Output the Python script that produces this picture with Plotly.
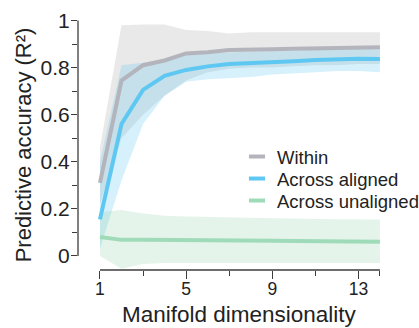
import plotly.graph_objects as go

dims = list(range(1, 15))

within_mean = [0.31, 0.745, 0.81, 0.83, 0.86, 0.865, 0.875, 0.875, 0.878, 0.88, 0.882, 0.884, 0.886, 0.886]
within_upper = [0.46, 0.98, 0.983, 0.983, 0.96, 0.955, 0.945, 0.95, 0.95, 0.95, 0.95, 0.95, 0.95, 0.95]
within_lower = [0.22, 0.5, 0.6, 0.68, 0.745, 0.78, 0.795, 0.80, 0.80, 0.805, 0.81, 0.81, 0.815, 0.815]

aligned_mean = [0.155, 0.56, 0.705, 0.765, 0.79, 0.805, 0.815, 0.818, 0.822, 0.827, 0.832, 0.835, 0.837, 0.836]
aligned_upper = [0.40, 0.81, 0.82, 0.835, 0.855, 0.86, 0.865, 0.868, 0.87, 0.873, 0.876, 0.878, 0.88, 0.88]
aligned_lower = [0.03, 0.32, 0.56, 0.68, 0.74, 0.75, 0.755, 0.76, 0.77, 0.775, 0.78, 0.785, 0.785, 0.78]

unaligned_mean = [0.08, 0.068, 0.068, 0.068, 0.067, 0.066, 0.065, 0.064, 0.064, 0.063, 0.062, 0.061, 0.061, 0.06]
unaligned_upper = [0.185, 0.195, 0.18, 0.17, 0.167, 0.165, 0.163, 0.16, 0.16, 0.158, 0.157, 0.156, 0.155, 0.155]
unaligned_lower = [0.0, -0.055, -0.035, -0.03, -0.03, -0.03, -0.03, -0.03, -0.03, -0.03, -0.03, -0.03, -0.03, -0.03]

series_names = ["Within", "Across aligned", "Across unaligned"]
x_major = [1, 5, 9, 13]
x_minor = [3, 7, 11, 14]
y_major = [0, 0.2, 0.4, 0.6, 0.8, 1]
y_minor = [0.1, 0.3, 0.5, 0.7, 0.9]

FONT = "Liberation Sans, Arial, Helvetica, sans-serif"
TXT = "#222222"
AX = "#3c3c3c"

series = [
    (within_mean, within_upper, within_lower, "#b4b4bc", "rgb(233,233,233)"),
    (aligned_mean, aligned_upper, aligned_lower, "#5ec8f2", "rgba(91,200,240,0.25)"),
    (unaligned_mean, unaligned_upper, unaligned_lower, "#9fdbb8", "rgba(120,200,150,0.2)"),
]
legend_ids = ["legend", "legend2", "legend3"]
legend_rows = [157, 179, 201]

fig = go.Figure()
for mean, up, lo, lc, fc in series:
    fig.add_trace(go.Scatter(
        x=dims + dims[::-1], y=up + lo[::-1], fill="toself", fillcolor=fc,
        mode="lines", line=dict(width=0), hoverinfo="skip", showlegend=False))
for mean, up, lo, lc, fc in series:
    fig.add_trace(go.Scatter(x=dims, y=mean, mode="lines",
                             line=dict(color=lc, width=4), showlegend=False))
for name, lid, (mean, up, lo, lc, fc) in zip(series_names, legend_ids, series):
    fig.add_trace(go.Scatter(x=[None], y=[None], mode="markers", name=name, legend=lid,
                             marker=dict(symbol="line-ew", size=11.5,
                                         line=dict(color=lc, width=4))))

legend_layout = {}
for lid, row in zip(legend_ids, legend_rows):
    legend_layout[lid] = dict(xref="container", yref="container", x=237/419, y=1-row/328,
                              xanchor="left", yanchor="middle", bgcolor="rgba(0,0,0,0)",
                              font=dict(size=18.5, color=TXT), itemwidth=30)

fig.update_layout(
    width=419, height=328,
    margin=dict(l=78, r=38, t=20, b=58, autoexpand=False),
    plot_bgcolor="white", paper_bgcolor="white",
    font=dict(family=FONT, color=TXT),
    xaxis=dict(range=[-0.02, 14.05], showgrid=False, zeroline=False, showline=False,
               tickmode="array", tickvals=x_major, ticktext=[str(v) for v in x_major],
               ticks="outside", ticklen=8, tickwidth=1.3, tickcolor=AX,
               tickfont=dict(size=17.5, color=TXT), ticklabelstandoff=-5,
               minor=dict(tickmode="array", tickvals=x_minor, ticks="outside",
                          ticklen=5, tickwidth=1.3, tickcolor=AX)),
    yaxis=dict(range=[-0.06, 1.002], showgrid=False, zeroline=False, showline=False,
               tickmode="array", tickvals=y_major, ticktext=["0", "0.2", "0.4", "0.6", "0.8", "1"],
               ticks="outside", ticklen=6, tickwidth=1.3, tickcolor=AX,
               tickfont=dict(size=21, color=TXT), ticklabelstandoff=-3,
               minor=dict(tickmode="array", tickvals=y_minor, ticks="outside",
                          ticklen=5, tickwidth=1.3, tickcolor=AX),
               title=dict(text="Predictive accuracy (R²)", font=dict(size=22, color=TXT),
                          standoff=2)),
    shapes=[
        dict(type="line", xref="x domain", yref="y", x0=0, x1=0, y0=0, y1=1,
             line=dict(color=AX, width=1.3)),
        dict(type="line", xref="x", yref="y domain", x0=1, x1=14, y0=0, y1=0,
             line=dict(color=AX, width=1.3)),
    ],
    annotations=[
        dict(text="Manifold dimensionality", xref="x", yref="paper", x=7.5, y=0,
             yshift=-44, xanchor="center", yanchor="middle", showarrow=False,
             font=dict(size=22.5, color=TXT)),
    ],
    **legend_layout,
)

fig.write_html("out.html", config={"displayModeBar": False},
               post_script="document.body.style.margin='0';document.body.style.overflow='hidden';")
